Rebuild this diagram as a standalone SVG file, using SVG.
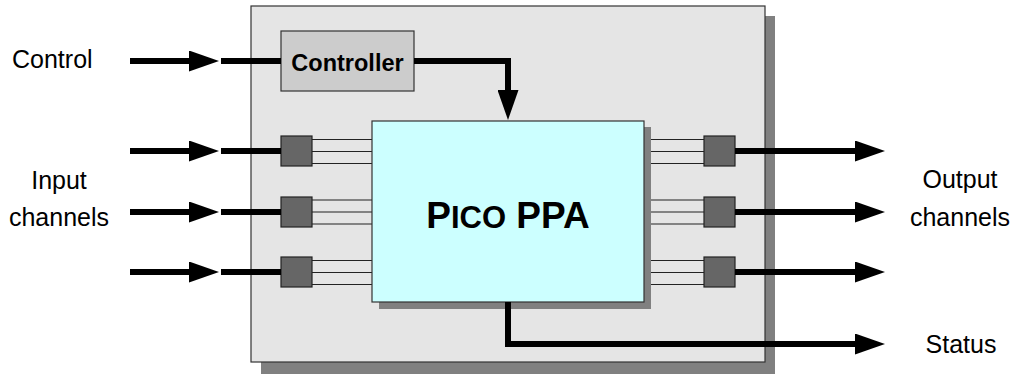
<svg xmlns="http://www.w3.org/2000/svg" width="1015" height="374" viewBox="0 0 1015 374">
  <style>
    .lbl { font-family: "Liberation Sans", Arial, sans-serif; font-size: 25px; fill: #000; }
    .bold { font-family: "Liberation Sans", Arial, sans-serif; font-weight: bold; fill: #000; }
    .port { fill: #666666; stroke: #222; stroke-width: 1.2; }
    .wire { stroke: #222; stroke-width: 1.2; fill: none; }
    .thick { stroke: #000; stroke-width: 6; fill: none; }
    .arr { stroke: #000; stroke-width: 6; fill: none; marker-end: url(#head); }
  </style>
  <defs>
    <marker id="head" viewBox="0 0 30 21" refX="0" refY="10.5" markerWidth="30" markerHeight="21" markerUnits="userSpaceOnUse" orient="auto">
      <path d="M0,0 L30,10.5 L0,21 Z" fill="#000"/>
    </marker>
  </defs>
  <rect width="1015" height="374" fill="#fff"/>

  <g id="system">
    <rect x="261" y="16" width="514" height="358" fill="#808080"/>
    <rect x="251" y="6" width="514" height="356" fill="#e5e5e5" stroke="#333" stroke-width="1.2"/>
  </g>

  <g id="controller">
    <rect x="281" y="31" width="133" height="60" fill="#cccccc" stroke="#333" stroke-width="1.2"/>
    <text class="bold" x="347.5" y="71" font-size="23.5" text-anchor="middle">Controller</text>
  </g>

  <g id="wires">
    <path class="wire" d="M312,139.5 H372 M312,151.5 H372 M312,163.5 H372"/>
    <path class="wire" d="M312,200 H372 M312,212 H372 M312,224 H372" stroke="#555"/>
    <path class="wire" d="M312,260.5 H372 M312,272.5 H372 M312,284.5 H372"/>
    <path class="wire" d="M644,139.5 H704 M644,151.5 H704 M644,163.5 H704"/>
    <path class="wire" d="M644,200 H704 M644,212 H704 M644,224 H704" stroke="#555"/>
    <path class="wire" d="M644,260.5 H704 M644,272.5 H704 M644,284.5 H704"/>
  </g>

  <g id="ppa">
    <rect x="379" y="127" width="272" height="182" fill="#808080"/>
    <rect x="372" y="121" width="272" height="181" fill="#ccffff" stroke="#333" stroke-width="1.2"/>
    <text class="bold" x="508" y="228" text-anchor="middle"><tspan font-size="37">P</tspan><tspan font-size="31">ICO</tspan><tspan font-size="37"> PPA</tspan></text>
  </g>

  <g id="in-port-1"><rect class="port" x="281" y="136" width="31" height="30"/></g>
  <g id="in-port-2"><rect class="port" x="281" y="197" width="31" height="30"/></g>
  <g id="in-port-3"><rect class="port" x="281" y="257" width="31" height="30"/></g>
  <g id="out-port-1"><rect class="port" x="704" y="136" width="31" height="30"/></g>
  <g id="out-port-2"><rect class="port" x="704" y="197" width="31" height="30"/></g>
  <g id="out-port-3"><rect class="port" x="704" y="257" width="31" height="30"/></g>

  <g id="connectors">
    <path class="arr" d="M130,61 H189"/>
    <path class="thick" d="M221,61 H281"/>
    <path class="arr" d="M414,61 H508 V90"/>

    <path class="arr" d="M130,151 H189"/>
    <path class="thick" d="M221,151 H281"/>
    <path class="arr" d="M130,212 H189"/>
    <path class="thick" d="M221,212 H281"/>
    <path class="arr" d="M130,272 H189"/>
    <path class="thick" d="M221,272 H281"/>

    <path class="thick" d="M735,151 H797"/>
    <path class="arr" d="M795,151 H855"/>
    <path class="thick" d="M735,212 H797"/>
    <path class="arr" d="M795,212 H855"/>
    <path class="thick" d="M735,272 H797"/>
    <path class="arr" d="M795,272 H855"/>

    <path class="arr" d="M508,302 V344 H855"/>
  </g>

  <g id="labels">
    <text class="lbl" x="12" y="68">Control</text>
    <text class="lbl" x="59" y="189" text-anchor="middle">Input</text>
    <text class="lbl" x="59" y="226" text-anchor="middle">channels</text>
    <text class="lbl" x="960" y="188" text-anchor="middle">Output</text>
    <text class="lbl" x="960" y="226" text-anchor="middle">channels</text>
    <text class="lbl" x="961" y="353" text-anchor="middle">Status</text>
  </g>
</svg>
